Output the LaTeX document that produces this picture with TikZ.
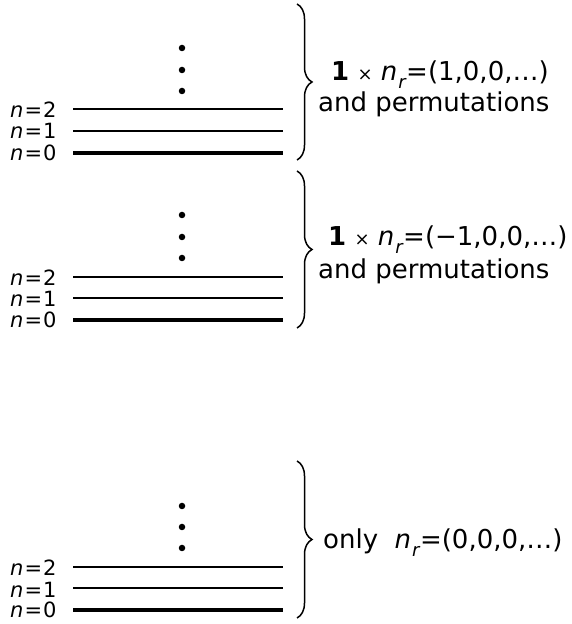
\documentclass[tikz,border=0pt]{standalone}
\usepackage{fontspec}
\setmainfont{DejaVu Sans}
\usetikzlibrary{decorations.pathreplacing}
\newcommand{\nsubr}{\textit{n}\kern1pt\raisebox{-0.28em}{\fontsize{18}{18}\selectfont\textit{r}}\kern-0.5pt}
\newcommand{\smtimes}{{\fontsize{18}{18}\selectfont ×}}
\tikzset{
  level/.style={line width=1.6pt},
  ground/.style={line width=4pt},
  dotmark/.style={circle,fill=black,inner sep=0pt,minimum size=6.5pt},
  lab/.style={anchor=base west,inner sep=0pt,font=\fontsize{21}{24}\selectfont},
  txt/.style={anchor=base west,inner sep=0pt,font=\fontsize{26}{31}\selectfont},
  bracestyle/.style={line width=1.5pt,decorate,decoration={brace,amplitude=15pt}}
}
\begin{document}
\begin{tikzpicture}[x=1pt,y=1pt]
\useasboundingbox (0,0) rectangle (571,624);
% ---------- group 1 ----------
\coordinate (a2l) at (73,515); \coordinate (a2r) at (283,515);
\coordinate (a1l) at (73,493); \coordinate (a1r) at (283,493);
\coordinate (a0l) at (73,471); \coordinate (a0r) at (283,471);
\draw[level] (a2l) -- (a2r);
\draw[level] (a1l) -- (a1r);
\draw[ground] (a0l) -- (a0r);
\node[lab] (la2) at (10,506) {\textit{n}\kern1pt=\kern1pt2};
\node[lab] (la1) at (10,485) {\textit{n}\kern1pt=\kern1pt1};
\node[lab] (la0) at (10,463) {\textit{n}\kern1pt=\kern1pt0};
\node[dotmark] (ad1) at (182,576) {};
\node[dotmark] (ad2) at (182,554) {};
\node[dotmark] (ad3) at (182,533) {};
\coordinate (abt) at (297,620); \coordinate (abb) at (297,464);
\draw[bracestyle] (abt) -- (abb);
\node[txt] (at1) at (331,543) {\textbf{1} \smtimes\ \nsubr=(1,0,0,…)};
\node[txt] (at2) at (318,512) {and permutations};
% ---------- group 2 ----------
\coordinate (b2l) at (73,347); \coordinate (b2r) at (283,347);
\coordinate (b1l) at (73,326); \coordinate (b1r) at (283,326);
\coordinate (b0l) at (73,304); \coordinate (b0r) at (283,304);
\draw[level] (b2l) -- (b2r);
\draw[level] (b1l) -- (b1r);
\draw[ground] (b0l) -- (b0r);
\node[lab] (lb2) at (10,338) {\textit{n}\kern1pt=\kern1pt2};
\node[lab] (lb1) at (10,317) {\textit{n}\kern1pt=\kern1pt1};
\node[lab] (lb0) at (10,296) {\textit{n}\kern1pt=\kern1pt0};
\node[dotmark] (bd1) at (182,409) {};
\node[dotmark] (bd2) at (182,387) {};
\node[dotmark] (bd3) at (182,366) {};
\coordinate (bbt) at (297,453); \coordinate (bbb) at (297,296);
\draw[bracestyle] (bbt) -- (bbb);
\node[txt] (bt1) at (328,378) {\textbf{1} \smtimes\ \nsubr=(−1,0,0,…)};
\node[txt] (bt2) at (318,345) {and permutations};
% ---------- group 3 ----------
\coordinate (c2l) at (73,57); \coordinate (c2r) at (283,57);
\coordinate (c1l) at (73,36); \coordinate (c1r) at (283,36);
\coordinate (c0l) at (73,14); \coordinate (c0r) at (283,14);
\draw[level] (c2l) -- (c2r);
\draw[level] (c1l) -- (c1r);
\draw[ground] (c0l) -- (c0r);
\node[lab] (lc2) at (10,48) {\textit{n}\kern1pt=\kern1pt2};
\node[lab] (lc1) at (10,27) {\textit{n}\kern1pt=\kern1pt1};
\node[lab] (lc0) at (10,6) {\textit{n}\kern1pt=\kern1pt0};
\node[dotmark] (cd1) at (182,118) {};
\node[dotmark] (cd2) at (182,97) {};
\node[dotmark] (cd3) at (182,76) {};
\coordinate (cbt) at (297,163); \coordinate (cbb) at (297,6);
\draw[bracestyle] (cbt) -- (cbb);
\node[txt] (ct1) at (323,75) {only \ \nsubr=(0,0,0,…)};
\end{tikzpicture}
\end{document}
